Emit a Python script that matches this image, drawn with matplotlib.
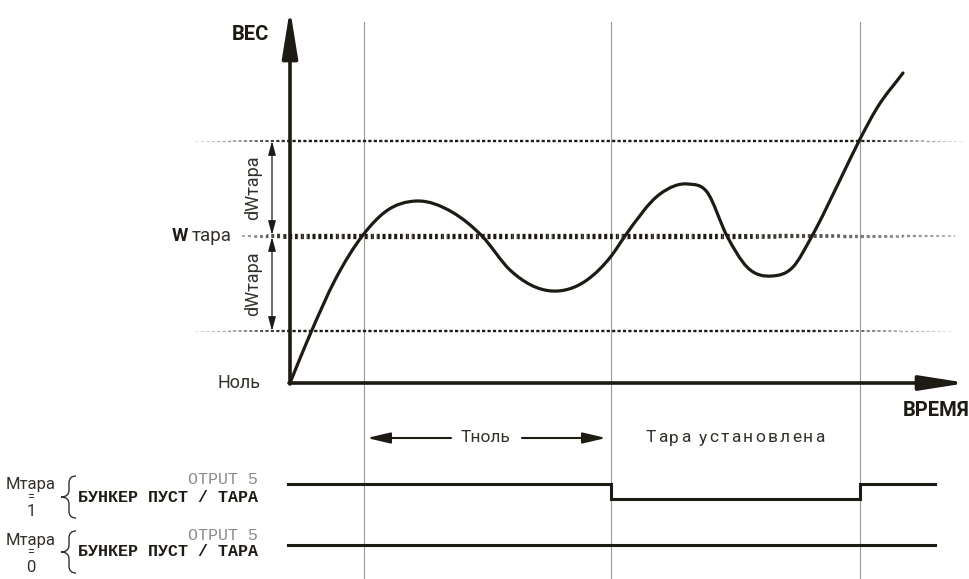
import numpy as np
import matplotlib
matplotlib.use("Agg")
import matplotlib.pyplot as plt
from matplotlib.path import Path
from matplotlib.patches import PathPatch

plt.rcParams["lines.scale_dashes"] = False

# ---------------- data ----------------
time_pts = [0, 11, 22, 45, 73, 95, 127, 162, 192, 220, 262, 297, 322, 335,
            370, 398, 417, 437, 457, 482, 503, 522, 550, 569, 587, 613]
weight_pts = [0, 27, 53, 103, 148, 171, 182, 171, 147, 113, 92, 103, 128, 147,
              189, 199, 191, 147, 116, 107, 116, 147, 203, 242, 275, 310]

W_tare = 147          # tare weight level
dW_tare = 95          # tolerance band
event_times = [74, 321, 570]   # thin vertical markers

sig_times = [-2, 321, 570, 645]
sig_mtara1 = [1, 0, 1, 1]
sig_mtara0 = [1, 1, 1, 1]

labels_row = ["1", "0"]

INK = "#1e1a14"
TXT = "#34302a"
GRAY = "#9a9a9a"
FONT = "Roboto"
MONO = "Liberation Mono"

fig = plt.figure(figsize=(9.7, 5.79), dpi=100)
ax = fig.add_axes([0, 0, 1, 1])
ax.set_xlim(-290, 680)
ax.set_ylim(-196, 383)
ax.axis("off")

# ---------------- vertical event lines ----------------
for t in event_times:
    ax.plot([t, t], [-196, 361], color=GRAY, lw=0.8, zorder=1)


# ---------------- faded dotted level lines ----------------
def faded_dashed(y, x_start, x_full0, x_full1, x_end, lw_full, lw_min, on, off,
                 step=5, a_min=0.1):
    period = on + off
    xs = np.arange(x_start, x_end, step)
    for a in xs:
        b = min(a + step, x_end)
        m = 0.5 * (a + b)
        if m < x_full0:
            f = (m - x_start) / (x_full0 - x_start)
        elif m > x_full1:
            f = 1 - (m - x_full1) / (x_end - x_full1)
        else:
            f = 1.0
        f = max(0.0, min(1.0, f))
        alpha = a_min + (1 - a_min) * f
        lw = lw_min + (lw_full - lw_min) * f
        offset = ((a - x_start) * 0.72) % period
        ax.plot([a, b], [y, y], color=INK, lw=lw, alpha=alpha,
                ls=(offset, (on, off)), solid_capstyle="butt",
                dash_capstyle="butt", zorder=2)


faded_dashed(W_tare + dW_tare, -95, 0, 570, 672, 1.7, 0.7, 2.3, 1.6)
faded_dashed(W_tare, -48, 0, 440, 665, 3.8, 1.2, 2.2, 2.0, a_min=0.35)
faded_dashed(W_tare - dW_tare, -95, 0, 520, 662, 1.7, 0.7, 2.3, 1.6)

# ---------------- weight curve (smooth Hermite path through read points) ----------------
x = np.asarray(time_pts, float)
y = np.asarray(weight_pts, float)
h = np.diff(x)
d = np.diff(y) / h
m = np.empty_like(y)
m[0] = d[0]
m[-1] = d[-1]
m[1:-1] = (d[1:] * h[:-1] + d[:-1] * h[1:]) / (h[:-1] + h[1:])
verts = [(x[0], y[0])]
codes = [Path.MOVETO]
for i in range(len(x) - 1):
    c1 = (x[i] + h[i] / 3, y[i] + m[i] * h[i] / 3)
    c2 = (x[i + 1] - h[i] / 3, y[i + 1] - m[i + 1] * h[i] / 3)
    verts += [c1, c2, (x[i + 1], y[i + 1])]
    codes += [Path.CURVE4] * 3
ax.add_patch(PathPatch(Path(verts, codes), fill=False, ec=INK, lw=2.3,
                       capstyle="round", joinstyle="round", zorder=4))

# ---------------- axes arrows ----------------
ax.annotate("", xy=(0, 374), xytext=(0, -1),
            arrowprops=dict(arrowstyle="-|>,head_length=29,head_width=4.7",
                            mutation_scale=1, lw=2.6, color=INK,
                            shrinkA=0, shrinkB=0), zorder=5)
ax.annotate("", xy=(677, 0), xytext=(-1, 0),
            arrowprops=dict(arrowstyle="-|>,head_length=28,head_width=4.4",
                            mutation_scale=1, lw=2.6, color=INK,
                            shrinkA=0, shrinkB=0), zorder=5)

# dW arrows
for y0, y1 in [(W_tare + dW_tare, W_tare + 1), (W_tare - 1, W_tare - dW_tare)]:
    ax.annotate("", xy=(-18, y1), xytext=(-18, y0),
                arrowprops=dict(arrowstyle="<|-|>,head_length=8.5,head_width=2.3",
                                mutation_scale=1, lw=0.9, color=INK,
                                shrinkA=0, shrinkB=0))
    ax.text(-37, 0.5 * (y0 + y1), "dWтара", rotation=90, ha="center", va="center",
            fontsize=13, family=FONT, color=TXT)

# ---------------- axis texts ----------------
ax.text(-40, 348, "ВЕС", ha="center", va="center", fontsize=14.5,
        fontweight="bold", family=FONT, color=INK)
ax.text(646, -27, "ВРЕМЯ", ha="center", va="center", fontsize=14.5,
        fontweight="bold", family=FONT, color=INK)
ax.text(-118, W_tare, "W", ha="left", va="center", fontsize=13.5,
        fontweight="bold", family=FONT, color=INK)
ax.text(-98, W_tare, "тара", ha="left", va="center", fontsize=13.5,
        family=FONT, color=TXT)
ax.text(-51, 0, "Ноль", ha="center", va="center", fontsize=13,
        family=FONT, color=TXT)

# ---------------- Tноль arrows ----------------
y_t = -55
for x0, x1 in [(161, 77), (232, 316)]:
    ax.annotate("", xy=(x1, y_t), xytext=(x0, y_t),
                arrowprops=dict(arrowstyle="-|>,head_length=14,head_width=3.3",
                                mutation_scale=1, lw=1.5, color=INK,
                                shrinkA=0, shrinkB=0))
ax.text(196, y_t, "Тноль", ha="center", va="center", fontsize=12.5,
        family=FONT, color=TXT)


def spaced_text(xc, yy, s, extra, **kw):
    fig.canvas.draw()
    r = fig.canvas.get_renderer()
    widths = []
    for ch in s:
        t = ax.text(0, 0, ch + "|", **kw)
        w1 = t.get_window_extent(r).width
        t.remove()
        t = ax.text(0, 0, "|", **kw)
        w2 = t.get_window_extent(r).width
        t.remove()
        widths.append(w1 - w2)
    total = sum(widths) + extra * (len(s) - 1)
    xx = xc - total / 2
    for ch, w in zip(s, widths):
        ax.text(xx, yy, ch, ha="left", va="center", **kw)
        xx += w + extra


spaced_text(735 - 290, y_t, "Тара установлена", 2.2, fontsize=12.5, family=FONT,
            color=TXT)

# ---------------- output signals ----------------
for states, low, y_lab, lab in [(sig_mtara1, -116, -102, labels_row[0]),
                                 (sig_mtara0, -177, -157, labels_row[1])]:
    ys = [low + 15 * s for s in states]
    ax.plot(sig_times, ys, drawstyle="steps-post", color=INK, lw=2.2,
            solid_joinstyle="miter", zorder=3)
    ax.text(-259, y_lab, "Мтара", ha="center", va="center", fontsize=12,
            family=FONT, color=TXT)
    ax.text(-259, y_lab - 13, "=", ha="center", va="center", fontsize=9,
            family=FONT, color=TXT)
    ax.text(-259, y_lab - 27, lab, ha="center", va="center", fontsize=12,
            family=FONT, color=TXT)
    ax.text(-32, y_lab + 5, "OTPUT 5", ha="right", va="center", fontsize=12,
            family=MONO, color="#8a8a8a")
    ax.text(-32, y_lab - 12, "БУНКЕР ПУСТ / ТАРА", ha="right", va="center",
            fontsize=12, family=MONO, fontweight="bold", color=INK)
    # brace
    cy = y_lab - 12
    ytop, ybot = cy + 21, cy - 21
    x1, xm, x0 = -214, -221, -229
    r = 7
    bverts = [(x1, ytop), (xm, ytop), (xm, ytop - r), (xm, cy + r), (xm, cy), (x0, cy),
              (xm, cy), (xm, cy - r), (xm, ybot + r), (xm, ybot), (x1, ybot)]
    bcodes = [Path.MOVETO, Path.CURVE3, Path.CURVE3, Path.LINETO, Path.CURVE3, Path.CURVE3,
              Path.CURVE3, Path.CURVE3, Path.LINETO, Path.CURVE3, Path.CURVE3]
    ax.add_patch(PathPatch(Path(bverts, bcodes), fill=False, ec=TXT, lw=1.0))

fig.savefig("out.png", dpi=100, facecolor="white")
